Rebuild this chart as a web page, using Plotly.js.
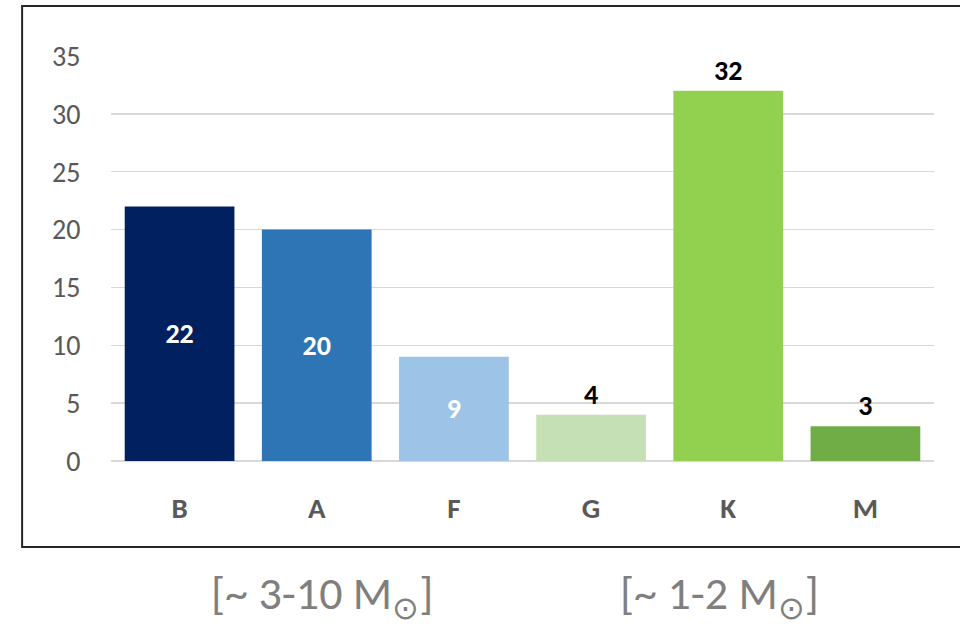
<!DOCTYPE html>
<html>
<head>
<meta charset="utf-8">
<script src="https://cdn.plot.ly/plotly-3.0.1.min.js"></script>
<style>
  html, body { margin: 0; padding: 0; background: #ffffff; }
  #chart { width: 960px; height: 624px; }
</style>
</head>
<body>
<div id="chart"></div>
<script>
// Data
const spectralClasses = ['B', 'A', 'F', 'G', 'K', 'M'];
const starCounts = [22, 20, 9, 4, 32, 3];
const barColors = ['#002060', '#2E75B6', '#9DC3E6', '#C5E0B4', '#92D050', '#70AD47'];
const yTickValues = [0, 5, 10, 15, 20, 25, 30, 35];
const massRangeLabels = ['[~ 3-10 M<sub>\u2299</sub>]', '[~ 1-2 M<sub>\u2299</sub>]'];

const FONT = 'Carlito, Calibri, Lato, "Open Sans", sans-serif';

// label placement: inside for the first three bars, outside otherwise
const labelPos = starCounts.map((v, i) => (i <= 2 ? 'inside' : 'outside'));
const labelColor = starCounts.map((v, i) => (i <= 2 ? '#ffffff' : '#000000'));

const trace = {
  type: 'bar',
  x: spectralClasses,
  y: starCounts,
  width: 0.8,
  marker: { color: barColors, line: { width: 0 } },
  text: starCounts.map(String),
  textposition: labelPos,
  insidetextanchor: 'middle',
  textangle: 0,
  constraintext: 'none',
  cliponaxis: false,
  textfont: { family: FONT, size: 28, color: labelColor, weight: 'bold' },
  hoverinfo: 'skip'
};

const layout = {
  width: 960,
  height: 624,
  margin: { l: 111, r: 26, t: 56, b: 163 },
  paper_bgcolor: '#ffffff',
  plot_bgcolor: '#ffffff',
  showlegend: false,
  bargap: 0.2,
  xaxis: {
    type: 'category',
    range: [-0.5, 5.5],
    showgrid: false,
    showline: false,
    zeroline: false,
    ticks: 'outside',
    ticklen: 21,
    tickcolor: 'rgba(0,0,0,0)',
    tickfont: { family: FONT, size: 29, color: '#595959', weight: 'bold' },
    fixedrange: true
  },
  yaxis: {
    range: [0, 35],
    tickvals: yTickValues,
    ticktext: yTickValues.map(String),
    showgrid: true,
    gridcolor: '#d9d9d9',
    gridwidth: 1.5,
    zeroline: true,
    zerolinecolor: '#d9d9d9',
    zerolinewidth: 1.5,
    showline: false,
    ticks: 'outside',
    ticklen: 24,
    tickcolor: 'rgba(0,0,0,0)',
    tickfont: { family: FONT, size: 28, color: '#595959' },
    fixedrange: true
  },
  shapes: [{
    type: 'rect',
    xref: 'paper', yref: 'paper',
    x0: -0.108, x1: 1.05, y0: -0.2123, y1: 1.1235,
    line: { color: '#262626', width: 2 },
    fillcolor: 'rgba(0,0,0,0)',
    layer: 'below'
  }],
  annotations: [
    {
      xref: 'paper', yref: 'paper',
      x: 0.256, y: -0.335,
      text: massRangeLabels[0],
      showarrow: false,
      xanchor: 'center', yanchor: 'middle',
      font: { family: FONT, size: 46, color: '#7f7f7f', weight: 300 }
    },
    {
      xref: 'paper', yref: 'paper',
      x: 0.739, y: -0.335,
      text: massRangeLabels[1],
      showarrow: false,
      xanchor: 'center', yanchor: 'middle',
      font: { family: FONT, size: 46, color: '#7f7f7f', weight: 300 }
    }
  ]
};

Plotly.newPlot('chart', [trace], layout, { displayModeBar: false, staticPlot: true });
</script>
</body>
</html>
